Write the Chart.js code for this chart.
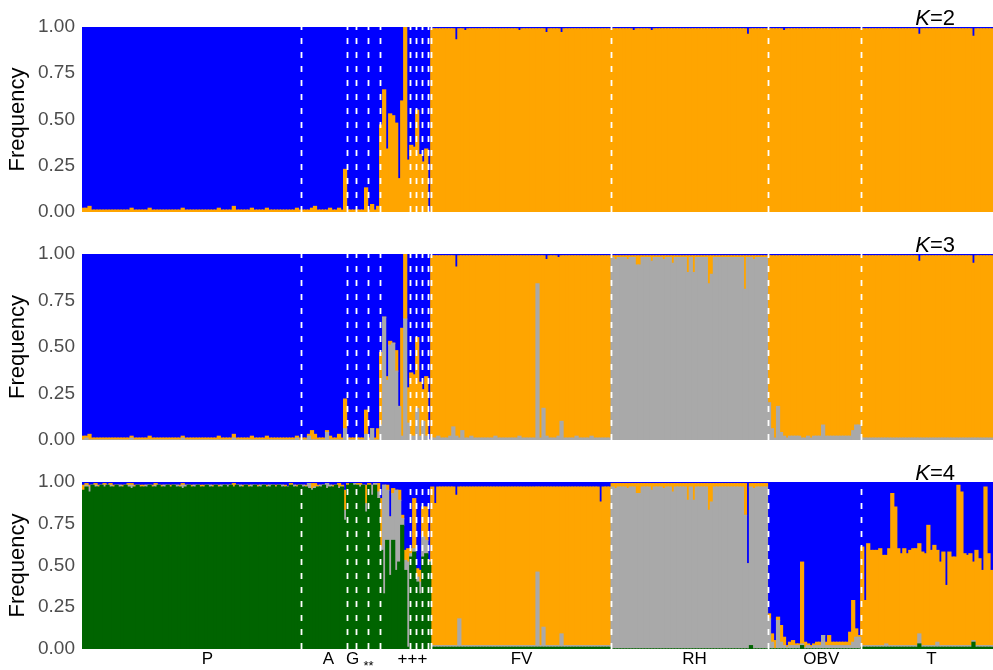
<!DOCTYPE html>
<html><head><meta charset="utf-8">
<script src="https://cdn.jsdelivr.net/npm/chart.js@4.4.0/dist/chart.umd.min.js"></script>
<style>
html,body{margin:0;padding:0;background:#fff;}
#wrap{position:relative;width:993px;height:670px;overflow:hidden;background:#fff;}
canvas{position:absolute;left:0;top:0;}
</style></head><body>
<div id="wrap">
<canvas id="c2" width="993" height="670"></canvas>
<canvas id="c3" width="993" height="670"></canvas>
<canvas id="c4" width="993" height="670"></canvas>
</div>
<script>
// ---- populations (individual counts, in plot order) ----
const popNames = ['P','A','G','S1','S2','H','P1','P2','P3','P4','FV','RH','OBV','T'];
const popSizes = [73,15,3,4,4,10,2,2,2,1,60,52,31,44];
const popLabels = ['P','A','G','**','+++','FV','RH','OBV','T'];
const popLabelAt = [41.2,81.5,89.5,94.8,109.4,145.7,203.2,245.4,282];
const yTickValues = [0,0.25,0.5,0.75,1];
const panelNames = ['K=2','K=3','K=4'];

// ---- membership values (percent), K=2 ----
const k2Orange = [
/*P*/2,2,3,1,1,1,1,1,1,1, 1,1,1,1,1,1,2,1,1,1, 1,1,2,1,1,1,1,1,1,1, 1,1,1,2,1,1,1,1,1,1, 1,1,1,1,1,2,1,1,1,1, 3,1,1,1,1,1,2,1,1,1, 1,2,1,1,1,1,1,1,1,1, 1,2,1,
/*A*/1,1,1,2,3,1,1,1,1,2,1,1,2,1,23,
/*G*/1,1,1,
/*S1*/1,1,1,13,
/*S2*/1,4,1,3,
/*H*/47,66,34,53,52,48,18,60,100,28,
/*P1-4*/36,35,55,31,27,34,0,
/*FV*/99,99,99,99,99,99,99,99,93,99, 99,98,99,99,99,99,99,99,99,99, 99,99,99,99,99,99,99,99,99,98, 99,99,99,99,99,99,99,99,97,99, 99,99,99,97,99,99,99,99,99,99, 99,99,99,99,99,99,99,99,99,99,
/*RH*/99,99,99,99,99,99,99,98,99,99, 99,99,99,98,99,99,99,99,99,99, 99,99,99,99,99,99,99,99,99,99, 99,99,99,99,99,99,99,99,99,99, 99,99,99,99,99,96,99,99,99,99, 99,99,
/*OBV*/99,99,99,99,99,98,99,99,99,99, 99,99,99,99,99,99,99,99,99,99, 99,99,99,99,99,99,99,99,99,99, 99,
/*T*/99,99,99,99,99,99,99,99,99,99, 99,99,99,99,99,99,99,99,99,96, 99,99,99,99,99,99,99,99,99,99, 99,99,99,99,99,99,99,95,99,99, 99,99,99,99
];
const k2Blue = [
/*P*/98,98,97,99,99,99,99,99,99,99, 99,99,99,99,99,99,98,99,99,99, 99,99,98,99,99,99,99,99,99,99, 99,99,99,98,99,99,99,99,99,99, 99,99,99,99,99,98,99,99,99,99, 97,99,99,99,99,99,98,99,99,99, 99,98,99,99,99,99,99,99,99,99, 99,98,99,
/*A*/99,99,99,98,97,99,99,99,99,98,99,99,98,99,77,
/*G*/99,99,99,
/*S1*/99,99,99,87,
/*S2*/99,96,99,97,
/*H*/53,34,66,47,48,52,82,40,0,72,
/*P1-4*/64,65,45,69,73,66,100,
/*FV*/1,1,1,1,1,1,1,1,7,1, 1,2,1,1,1,1,1,1,1,1, 1,1,1,1,1,1,1,1,1,2, 1,1,1,1,1,1,1,1,3,1, 1,1,1,3,1,1,1,1,1,1, 1,1,1,1,1,1,1,1,1,1,
/*RH*/1,1,1,1,1,1,1,2,1,1, 1,1,1,2,1,1,1,1,1,1, 1,1,1,1,1,1,1,1,1,1, 1,1,1,1,1,1,1,1,1,1, 1,1,1,1,1,4,1,1,1,1, 1,1,
/*OBV*/1,1,1,1,1,2,1,1,1,1, 1,1,1,1,1,1,1,1,1,1, 1,1,1,1,1,1,1,1,1,1, 1,
/*T*/1,1,1,1,1,1,1,1,1,1, 1,1,1,1,1,1,1,1,1,4, 1,1,1,1,1,1,1,1,1,1, 1,1,1,1,1,1,1,5,1,1, 1,1,1,1
];

// ---- K=3 ----
const k3Grey = [
/*P*/0,1,0,0,0,0,0,0,0,0, 0,0,0,0,0,0,1,0,0,0, 0,0,0,0,0,0,0,0,0,0, 0,0,0,1,0,0,0,0,0,0, 0,0,0,0,0,0,0,0,0,0, 1,0,0,0,0,0,0,0,0,0, 0,0,0,0,0,0,0,0,0,0, 0,1,0,
/*A*/0,0,2,0,0,0,0,0,4,0,0,0,0,0,6,
/*G*/0,0,0,
/*S1*/0,0,0,3,
/*S2*/0,6,0,0,
/*H*/8,66,32,51,52,37,18,2,65,9,
/*P1-4*/2,2,17,2,10,2,0,
/*FV*/1,1,2,1,1,1,2,7,2,1, 5,1,1,2,1,1,1,1,1,1, 1,2,1,1,1,1,1,1,1,2, 1,1,1,1,1,84,1,17,2,1, 1,1,2,10,1,1,1,1,2,1, 1,1,1,2,1,1,1,1,1,1,
/*RH*/98,97,98,98,98,97,98,98,94,94, 98,98,98,96,98,98,98,97,98,98, 95,98,98,98,98,90,98,90,98,98, 98,98,84,89,98,98,98,98,98,98, 98,98,98,98,81,98,98,97,98,98, 98,98,
/*OBV*/20,6,1,18,4,2,1,2,2,2, 2,1,1,2,1,2,2,2,8,2, 2,2,2,2,2,2,2,2,5,8,8,
/*T*/1,1,1,1,1,1,1,1,1,1, 1,1,1,1,1,1,1,1,1,1, 1,1,1,1,1,1,1,1,1,1, 1,1,1,1,1,1,1,1,1,1, 1,1,1,1
];
const k3Orange = [
/*P*/2,1,3,1,1,1,1,1,1,1, 1,1,1,1,1,1,1,1,1,1, 1,1,2,1,1,1,1,1,1,1, 1,1,1,1,1,1,1,1,1,1, 1,1,1,1,1,2,1,1,1,1, 2,1,1,1,1,1,2,1,1,1, 1,2,1,1,1,1,1,1,1,1, 1,1,1,
/*A*/1,1,1,5,3,1,1,1,1,2,1,1,3,1,16,
/*G*/1,1,1,
/*S1*/1,1,1,13,
/*S2*/1,0,1,6,
/*H*/39,0,2,2,0,11,0,58,35,19,
/*P1-4*/34,33,38,29,17,32,0,
/*FV*/98,98,97,98,98,98,97,92,91,98, 94,98,98,97,98,98,98,98,98,98, 98,97,98,98,98,98,98,98,98,97, 98,98,98,98,98,15,98,82,95,98, 98,98,96,89,98,98,98,98,97,98, 98,98,98,97,98,98,98,98,98,98,
/*RH*/1,2,1,1,1,2,1,1,5,5, 1,1,1,3,1,1,1,2,1,1, 4,1,1,1,1,9,1,9,1,1, 1,1,15,10,1,1,1,1,1,1, 1,1,1,1,18,1,1,2,1,1, 1,1,
/*OBV*/79,93,98,81,95,97,98,97,97,97, 97,98,98,97,98,97,97,97,91,97, 97,97,97,97,97,97,97,97,94,91,91,
/*T*/98,98,98,98,98,98,98,98,98,98, 98,98,98,98,98,98,98,98,98,95, 98,98,98,98,98,98,98,98,98,98, 98,98,98,98,98,98,98,94,98,98, 98,98,98,98
];
const k3Blue = [
/*P*/98,98,97,99,99,99,99,99,99,99, 99,99,99,99,99,99,98,99,99,99, 99,99,98,99,99,99,99,99,99,99, 99,99,99,98,99,99,99,99,99,99, 99,99,99,99,99,98,99,99,99,99, 97,99,99,99,99,99,98,99,99,99, 99,98,99,99,99,99,99,99,99,99, 99,98,99,
/*A*/99,99,97,95,97,99,99,99,95,98,99,99,97,99,78,
/*G*/99,99,99,
/*S1*/99,99,99,84,
/*S2*/99,94,99,94,
/*H*/53,34,66,47,48,52,82,40,0,72,
/*P1-4*/64,65,45,69,73,66,100,
/*FV*/1,1,1,1,1,1,1,1,7,1, 1,1,1,1,1,1,1,1,1,1, 1,1,1,1,1,1,1,1,1,1, 1,1,1,1,1,1,1,1,3,1, 1,1,2,1,1,1,1,1,1,1, 1,1,1,1,1,1,1,1,1,1,
/*RH*/1,1,1,1,1,1,1,1,1,1, 1,1,1,1,1,1,1,1,1,1, 1,1,1,1,1,1,1,1,1,1, 1,1,1,1,1,1,1,1,1,1, 1,1,1,1,1,1,1,1,1,1, 1,1,
/*OBV*/1,1,1,1,1,1,1,1,1,1, 1,1,1,1,1,1,1,1,1,1, 1,1,1,1,1,1,1,1,1,1, 1,
/*T*/1,1,1,1,1,1,1,1,1,1, 1,1,1,1,1,1,1,1,1,4, 1,1,1,1,1,1,1,1,1,1, 1,1,1,1,1,1,1,5,1,1, 1,1,1,1
];

// ---- K=4 ----
const k4Green = [
/*P*/95,97,94,98,97,97,98,97,98,97, 97,98,97,97,98,97,96,97,98,97, 97,97,98,97,97,98,97,97,98,97, 98,97,97,96,97,98,97,97,98,97, 97,98,97,97,98,97,97,98,97,98, 97,98,97,97,98,97,97,98,97,97, 98,97,97,98,97,98,97,97,97,98, 97,97,98,
/*A*/97,97,96,95,96,97,97,98,96,97,97,98,96,97,77,
/*G*/98,99,98,
/*S1*/98,97,98,82,
/*S2*/98,92,98,90,
/*H*/59,33,65,44,65,47,52,74,47,1,
/*P1-4*/55,58,40,33,55,57,52,
/*FV*/1,1,1,1,1,1,1,1,1,1, 1,1,1,1,1,1,1,1,1,1, 1,1,1,1,1,1,1,1,1,1, 1,1,1,1,1,1,1,1,1,1, 1,1,1,1,1,1,1,1,1,1, 1,1,1,1,1,1,1,1,1,1,
/*RH*/0,0,0,0,0,0,0,0,0,0, 0,0,0,0,0,0,0,0,0,0, 0,0,0,0,0,0,0,0,0,0, 0,0,0,0,0,0,0,0,0,0, 0,0,0,0,0,0,2,0,0,0, 0,0,
/*OBV*/0,0,0,0,0,0,0,0,0,0, 0,2,0,0,0,0,0,0,0,0, 0,0,0,0,0,0,0,0,0,0, 0,
/*T*/1,1,1,1,1,1,1,1,1,1, 1,1,1,1,1,1,1,1,1,3, 1,1,1,1,1,1,1,1,1,1, 1,1,1,1,1,1,1,4,1,1, 1,1,1,1
];
const k4Grey = [
/*P*/0,1,3,0,1,0,0,1,0,1, 0,0,1,0,0,1,2,0,0,0, 0,1,0,0,1,0,0,1,0,0, 0,1,0,2,1,0,0,1,0,0, 0,0,1,0,0,0,1,0,1,0, 0,0,1,0,0,0,1,0,0,1, 0,0,1,0,0,0,1,0,0,0, 1,0,0,
/*A*/1,0,3,1,1,0,1,0,3,1,0,0,1,0,6,
/*G*/0,0,1,
/*S1*/0,1,0,5,
/*S2*/0,6,1,4,
/*H*/2,65,30,35,28,48,37,4,6,51,
/*P1-4*/2,2,3,7,12,8,0,
/*FV*/1,1,1,1,1,1,1,1,1,17, 1,1,1,1,1,1,1,1,1,1, 1,1,1,1,1,1,1,1,1,1, 1,1,1,1,1,45,1,12,1,1, 1,1,1,8,1,1,1,1,1,1, 1,1,1,1,1,1,1,1,1,1,
/*RH*/97,96,97,97,97,96,97,97,93,93, 97,97,97,95,97,97,97,96,97,97, 94,97,97,97,97,89,97,89,97,97, 97,97,83,88,97,97,97,97,97,97, 97,97,97,97,80,51,95,96,97,97, 97,97,
/*OBV*/18,4,0,17,4,2,1,2,2,2, 2,1,1,2,1,2,2,2,8,2, 2,2,2,2,2,2,2,2,4,7,7,
/*T*/1,1,1,1,1,1,1,1,2,1, 1,1,1,1,1,1,1,1,1,6, 1,1,1,1,1,3,1,1,1,1, 1,1,1,1,1,1,1,1,1,1, 1,1,1,1
];
const k4Orange = [
/*P*/3,1,1,0,1,1,0,1,0,1, 1,0,0,1,0,1,1,1,0,1, 1,0,0,1,1,0,1,0,0,1, 0,0,1,1,0,0,1,0,0,1, 1,0,0,1,0,1,0,0,0,0, 2,0,0,1,0,1,0,0,1,0, 0,1,0,0,1,0,0,1,0,1, 0,1,0,
/*A*/0,1,0,3,2,1,0,0,0,0,1,0,2,1,12,
/*G*/1,0,0,
/*S1*/1,1,0,11,
/*S2*/1,0,0,5,
/*H*/29,0,3,0,3,0,6,2,6,8,
/*P1-4*/3,30,5,7,18,20,1,
/*FV*/95,85,95,95,95,95,95,95,90,79, 95,95,95,95,95,95,95,95,95,95, 95,95,95,95,95,95,95,95,95,95, 95,95,95,95,95,51,95,84,95,95, 95,95,95,88,95,95,95,95,95,95, 95,95,95,95,95,95,86,95,95,95,
/*RH*/2,3,2,2,2,3,2,2,6,6, 2,2,2,4,2,2,2,3,2,2, 5,2,2,2,2,10,2,10,2,2, 2,2,16,11,2,2,2,2,2,2, 2,2,2,2,19,0,2,3,2,2, 2,2,
/*OBV*/3,5,5,2,10,5,1,2,3,1, 1,49,3,1,1,1,2,2,0,2, 6,2,2,2,2,2,2,8,25,5,1,
/*T*/59,27,61,57,57,57,58,54,53,58, 91,83,58,55,58,55,57,58,58,54, 56,55,72,57,60,55,50,56,36,56, 53,53,96,92,55,54,55,47,57,52, 45,95,55,45
];
const k4Blue = [
/*P*/2,1,2,2,1,2,2,1,2,1, 2,2,2,2,2,1,1,2,2,2, 2,2,2,2,1,2,2,2,2,2, 2,2,2,1,2,2,2,2,2,2, 2,2,2,2,2,2,2,2,2,2, 1,2,2,2,2,2,2,2,2,2, 2,2,2,2,2,2,2,2,3,1, 2,2,2,
/*A*/2,2,1,1,1,2,2,2,1,2,2,2,1,2,5,
/*G*/1,1,1,
/*S1*/1,1,2,2,
/*S2*/1,2,1,1,
/*H*/10,2,2,21,4,5,5,20,41,40,
/*P1-4*/40,10,52,53,15,15,47,
/*FV*/3,13,3,3,3,3,3,3,8,3, 3,3,3,3,3,3,3,3,3,3, 3,3,3,3,3,3,3,3,3,3, 3,3,3,3,3,3,3,3,3,3, 3,3,3,3,3,3,3,3,3,3, 3,3,3,3,3,3,12,3,3,3,
/*RH*/1,1,1,1,1,1,1,1,1,1, 1,1,1,1,1,1,1,1,1,1, 1,1,1,1,1,1,1,1,1,1, 1,1,1,1,1,1,1,1,1,1, 1,1,1,1,1,49,1,1,1,1, 1,1,
/*OBV*/79,91,95,81,86,93,98,96,95,97, 97,48,96,97,98,97,96,96,92,96, 92,96,96,96,96,96,96,90,71,88,92,
/*T*/39,71,37,41,41,41,40,44,44,40, 7,15,40,43,40,43,41,40,40,37, 42,43,26,41,38,41,48,42,62,42, 45,45,2,6,43,44,43,48,41,46, 53,3,43,53
];

// ---- drawing ----
const COL = {blue:'#0000FF', orange:'#FFA500', grey:'#A9A9A9', green:'#006400'};
const FONT = '"Liberation Sans", Arial, Helvetica, sans-serif';
const N = popSizes.reduce((a,b)=>a+b,0);
const xLabels = Array.from({length:N},(_,i)=>String(i+1));
const boundaries = [];
{ let c=0; for (let i=0;i<popSizes.length-1;i++){ c+=popSizes[i]; boundaries.push(c);} }

function ds(arr,color){
  return {data:arr.map(v=>v/100), backgroundColor:color, borderWidth:0,
          barPercentage:1, categoryPercentage:1, stack:'s', inflateAmount:0.6};
}

function overlayPlugin(kText, withLabels){
  return {
    id:'overlay',
    afterDatasetsDraw(chart){
      const {ctx, chartArea:a, scales:{x}} = chart;
      ctx.save();
      // dashed population boundaries
      ctx.strokeStyle='#ffffff'; ctx.lineWidth=1.8; ctx.setLineDash([6,8]);
      boundaries.forEach(b=>{
        const px = Math.round(x.getPixelForValue(b-0.5))+0.5;
        ctx.beginPath(); ctx.moveTo(px,a.bottom); ctx.lineTo(px,a.top); ctx.stroke();
      });
      ctx.setLineDash([]);
      // panel label  K=n
      const parts = kText.split('=');
      ctx.fillStyle='#000'; ctx.textBaseline='alphabetic';
      ctx.font='22px '+FONT;
      const restW = ctx.measureText('='+parts[1]).width;
      const xr = 955;
      ctx.textAlign='right';
      ctx.fillText('='+parts[1], xr, a.top-2);
      ctx.font='italic 22px '+FONT;
      ctx.fillText(parts[0], xr-restW, a.top-2);
      // population labels
      if (withLabels){
        ctx.textAlign='center';
        popLabels.forEach((t,i)=>{
          const px = x.getPixelForValue(popLabelAt[i]);
          if (t==='**'){ ctx.font='13px '+FONT; ctx.fillText(t,px,a.bottom+21); }
          else { ctx.font='17px '+FONT; ctx.fillText(t,px,a.bottom+15); }
        });
      }
      ctx.restore();
    }
  };
}

function makeChart(id, datasets, padTop, padBottom, kText, withLabels){
  return new Chart(document.getElementById(id), {
    type:'bar',
    data:{labels:xLabels, datasets},
    options:{
      responsive:false, animation:false, devicePixelRatio:1,
      layout:{padding:{top:padTop,bottom:padBottom,left:0,right:0}},
      plugins:{legend:{display:false}, tooltip:{enabled:false}},
      scales:{
        x:{stacked:true, display:false, grid:{display:false}},
        y:{stacked:true, min:0, max:1,
           afterBuildTicks(s){ s.ticks = yTickValues.map(v=>({value:v})); },
           afterFit(s){ s.width = 82; },
           grid:{display:false, drawTicks:false}, border:{display:false},
           ticks:{color:'#4d4d4d', padding:7, font:{family:FONT,size:19},
                  callback:v=>Number(v).toFixed(2)},
           title:{display:true, text:'Frequency', color:'#000',
                  font:{family:FONT,size:22}, padding:{top:5,bottom:0}}
        }
      }
    },
    plugins:[overlayPlugin(kText, withLabels)]
  });
}

makeChart('c2', [ds(k2Orange,COL.orange), ds(k2Blue,COL.blue)], 27, 670-212, panelNames[0], false);
makeChart('c3', [ds(k3Grey,COL.grey), ds(k3Orange,COL.orange), ds(k3Blue,COL.blue)], 254, 670-440, panelNames[1], false);
makeChart('c4', [ds(k4Green,COL.green), ds(k4Grey,COL.grey), ds(k4Orange,COL.orange), ds(k4Blue,COL.blue)], 482, 670-649, panelNames[2], true);
</script>
</body></html>
